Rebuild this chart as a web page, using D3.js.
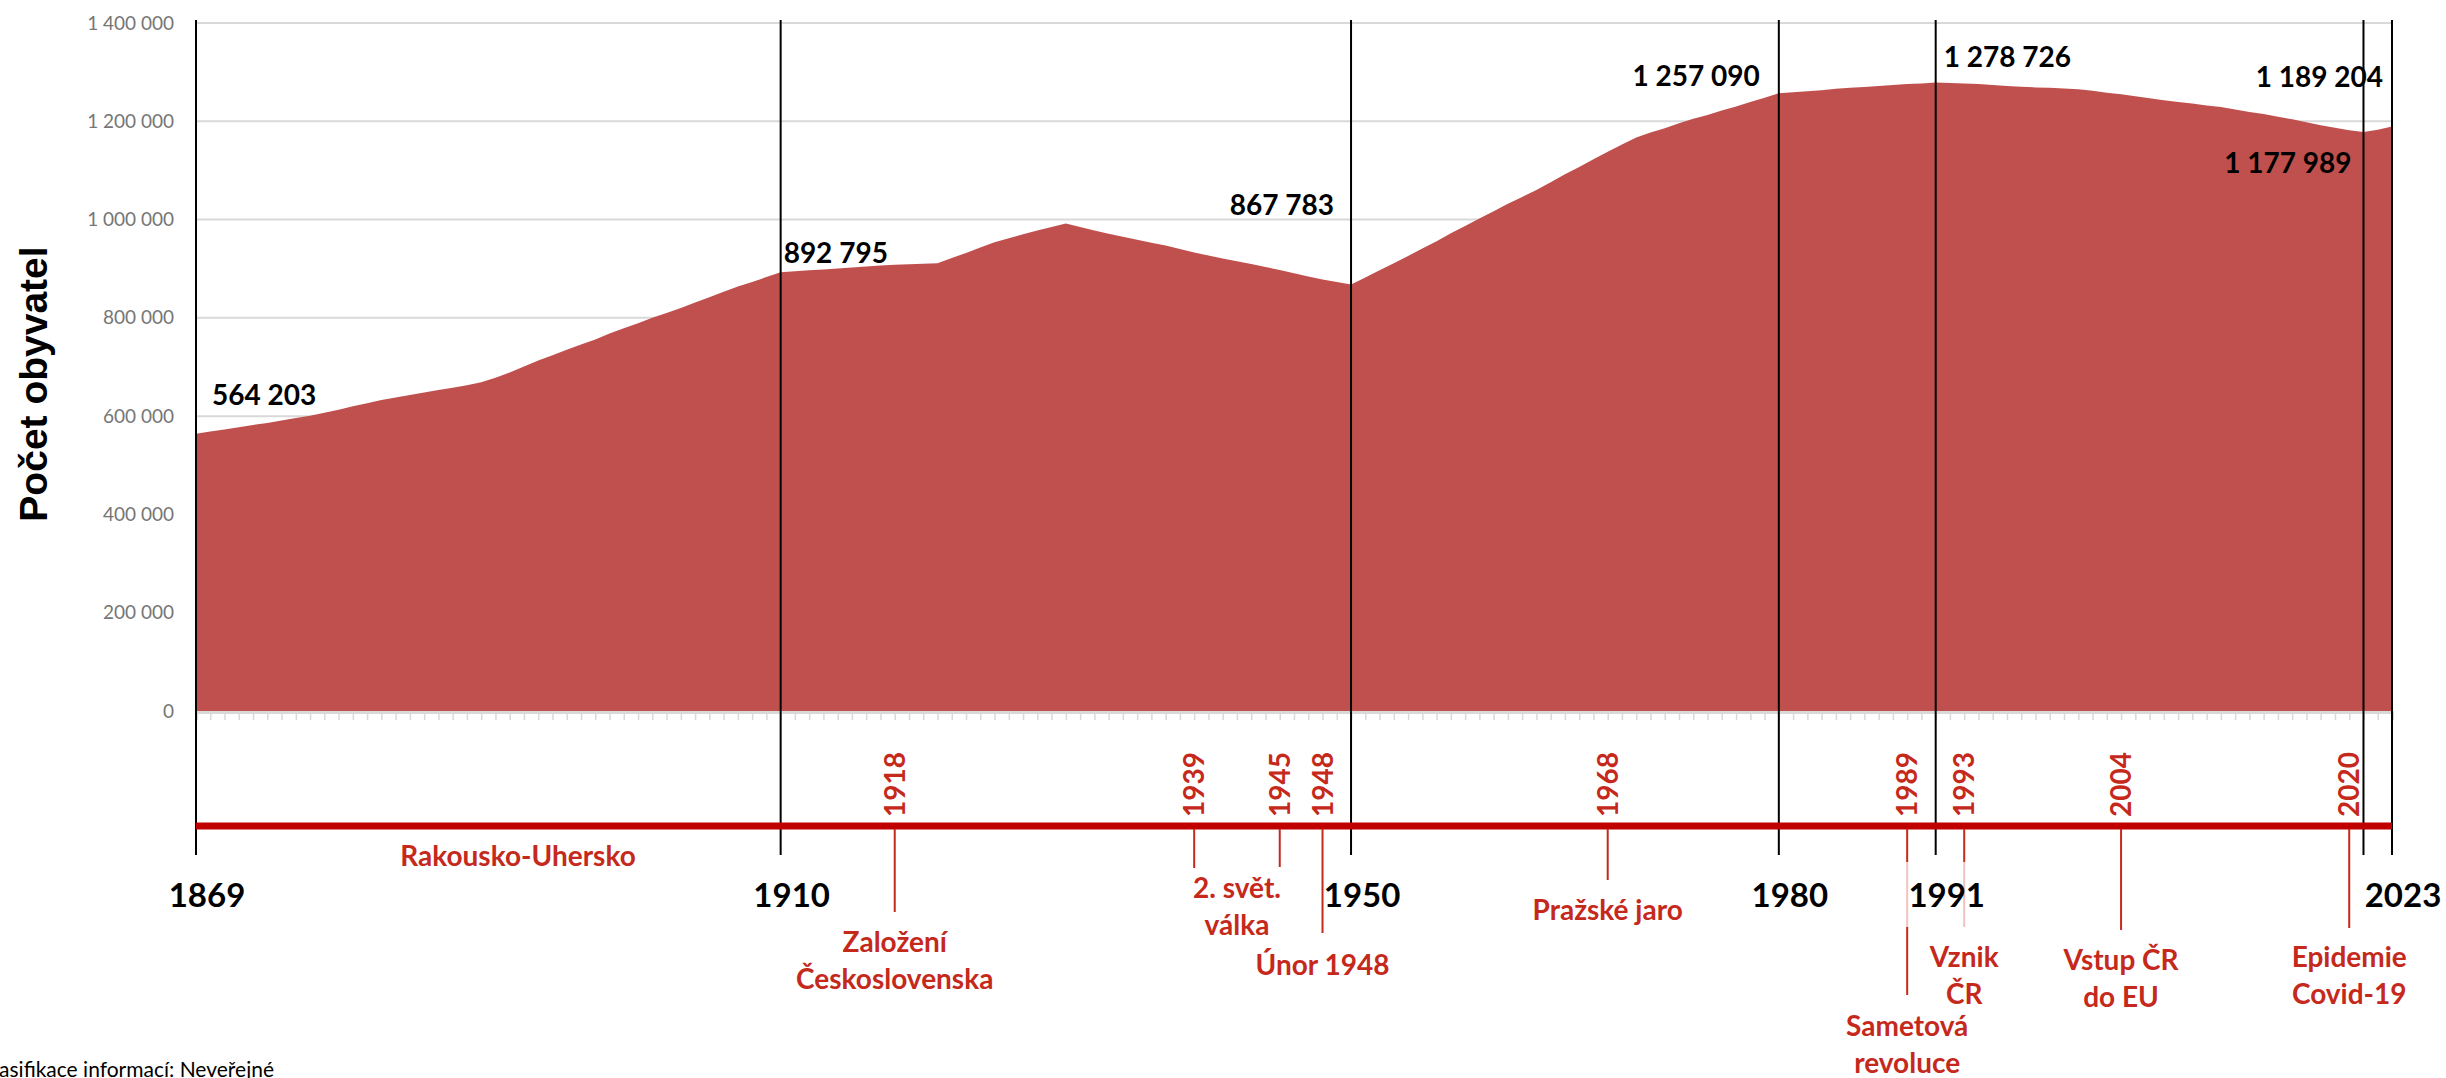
<!DOCTYPE html>
<html>
<head>
<meta charset="utf-8">
<script src="https://cdn.jsdelivr.net/npm/d3@7"></script>
<style>
  html, body { margin: 0; padding: 0; background: #fff; overflow: hidden; }
  svg { display: block; }
</style>
</head>
<body>
<script>
// ---------------- DATA ----------------
const firstYear = 1869;
const lastYear = 2023;
const population = [
  564203, 568500, 573000, 577500, 582000, 586000, 591000, 596000, 601000, 607000, // 1869-1878
  613000, 620000, 626000, 633000, 638000, 643000, 648000, 653000, 658000, 663000, // 1879-1888
  669000, 678000, 689000, 701000, 713000, 724000, 735000, 746000, 756000, 768000, // 1889-1898
  779000, 789000, 800000, 810000, 820000, 831000, 842000, 853000, 864000, 873000, // 1899-1908
  883000, 892795, 895000, 897000, 898500, 900500, 902500, 904500, 906500, 908000, // 1909-1918
  909000, 910000, 911000, 922000, 932000, 943000, 954000, 962000, 970000, 978000, // 1919-1928
  985000, 992000, 985000, 978000, 971000, 965000, 959000, 953000, 947000, 940000, // 1929-1938
  933000, 927000, 921000, 915000, 909500, 903500, 897500, 891000, 884000, 878000, // 1939-1948
  873000, 867783, 882000, 897000, 911000, 926000, 941000, 956000, 972000, 987000, // 1949-1958
  1002000, 1017000, 1032000, 1046000, 1060000, 1076000, 1092000, 1107000, 1123000, 1138000, // 1959-1968
  1153000, 1167000, 1177000, 1186000, 1196000, 1205000, 1213000, 1222000, 1230000, 1239000, // 1969-1978
  1248000, 1257090, 1259000, 1261000, 1263000, 1266000, 1268000, 1270000, 1272000, 1274000, // 1979-1988
  1276000, 1277000, 1278726, 1278000, 1277000, 1276000, 1274000, 1272000, 1270500, 1269000, // 1989-1998
  1268000, 1266500, 1265000, 1262000, 1258000, 1255000, 1251000, 1247000, 1243000, 1239000, // 1999-2008
  1236000, 1232000, 1229000, 1224000, 1219000, 1215000, 1209000, 1204000, 1198000, 1192000, // 2009-2018
  1187000, 1182000, 1177989, 1183000, 1189204                                              // 2019-2023
];
const years = d3.range(firstYear, lastYear + 1);

const yTickValues = [0, 200000, 400000, 600000, 800000, 1000000, 1200000, 1400000];
const censusLineYears = [1869, 1910, 1950, 1980, 1991, 2021, 2023];
const axisYearLabels = [1869, 1910, 1950, 1980, 1991, 2023];
const valueLabelYears = [1869, 1910, 1950, 1980, 1991, 2021, 2023];

const eventYears = [1918, 1939, 1945, 1948, 1968, 1989, 1993, 2004, 2020];
const eventLabelGroups = [
  { years: [1918], text: ["Založení", "Československa"] },
  { years: [1939, 1945], text: ["2. svět.", "válka"] },
  { years: [1948], text: ["Únor 1948"] },
  { years: [1968], text: ["Pražské jaro"] },
  { years: [1989], text: ["Sametová", "revoluce"] },
  { years: [1993], text: ["Vznik", "ČR"] },
  { years: [2004], text: ["Vstup ČR", "do EU"] },
  { years: [2020], text: ["Epidemie", "Covid-19"] }
];
const eraLabel = "Rakousko-Uhersko";
const yAxisTitle = "Počet obyvatel";
const footerText = "Klasifikace informací: Neveřejné";

// ---------------- LAYOUT ----------------
const W = 2446, H = 1078;
const plotLeft = 196, plotRight = 2392, plotTop = 23, plotBottom = 711;
const timelineY = 826;
const areaColor = "#C0504D";
const eventRed = "#C5291C";
const font = "Lato, 'Open Sans', sans-serif";

// label offsets (dx, dy relative to the data point) for value labels
const valueLabelLayout = [
  { dx: 16, dy: -29, anchor: "start" },
  { dx: 3, dy: -9, anchor: "start" },
  { dx: -17, dy: -70, anchor: "end" },
  { dx: -19, dy: -7, anchor: "end" },
  { dx: 8, dy: -16, anchor: "start" },
  { dx: -12, dy: 41, anchor: "end" },
  { dx: -9, dy: -40, anchor: "end" }
];
// line end y for each event marker
const eventLineEnd = { 1918: 912, 1939: 868, 1945: 867, 1948: 933, 1968: 880, 1989: 995, 1993: 927, 2004: 930, 2020: 928 };
// first baseline for each label group
const eventLabelBaseline = [952, 898, 975, 920, 1036, 967, 970, 967];

const fmt = d3.formatLocale({ decimal: ",", thousands: " ", grouping: [3], currency: ["", ""] }).format(",d");

const svg = d3.select("body").append("svg").attr("width", W).attr("height", H);

const x = d3.scaleLinear().domain([firstYear, lastYear]).range([plotLeft, plotRight]);
const y = d3.scaleLinear().domain([0, 1400000]).range([plotBottom, plotTop]);

// gridlines
svg.append("g").selectAll("line").data(yTickValues.filter(d => d > 0)).join("line")
  .attr("x1", plotLeft).attr("x2", plotRight)
  .attr("y1", d => y(d)).attr("y2", d => y(d))
  .attr("stroke", "#D9D9D9").attr("stroke-width", 2);

// y axis labels
const yAxis = svg.append("g").attr("transform", `translate(${plotLeft},0)`)
  .call(d3.axisLeft(y).tickValues(yTickValues).tickSize(0).tickPadding(22).tickFormat(fmt));
yAxis.select(".domain").remove();
yAxis.selectAll("text").attr("font-family", font).attr("font-size", 19).attr("fill", "#767676");

// area
const area = d3.area().x((d, i) => x(years[i])).y0(y(0)).y1(d => y(d));
svg.append("path").datum(population).attr("d", area).attr("fill", areaColor);

// x axis baseline with yearly ticks
const xAxis = svg.append("g").attr("transform", `translate(0,${plotBottom + 1})`)
  .call(d3.axisBottom(x).tickValues(years).tickSize(8).tickFormat(""));
xAxis.select(".domain").attr("stroke", "#D9D9D9").attr("stroke-width", 3);
xAxis.selectAll(".tick line").attr("stroke", "#D9D9D9").attr("stroke-width", 1.5);

// census vertical lines
svg.append("g").selectAll("line").data(censusLineYears).join("line")
  .attr("x1", d => x(d)).attr("x2", d => x(d))
  .attr("y1", 20).attr("y2", 855)
  .attr("stroke", "#000").attr("stroke-width", 2);

// red timeline
svg.append("line").attr("x1", x(firstYear)).attr("x2", x(lastYear))
  .attr("y1", timelineY).attr("y2", timelineY)
  .attr("stroke", "#C00000").attr("stroke-width", 7);

// event marker lines
svg.append("g").selectAll("line").data(eventYears).join("line")
  .attr("x1", d => x(d)).attr("x2", d => x(d))
  .attr("y1", timelineY + 3).attr("y2", d => eventLineEnd[d])
  .attr("stroke", eventRed).attr("stroke-width", 2);

// rotated event years
svg.append("g").selectAll("text").data(eventYears).join("text")
  .attr("transform", d => `translate(${x(d)},817) rotate(-90)`)
  .attr("dy", "0.36em")
  .attr("font-family", font).attr("font-weight", 700).attr("font-size", 28)
  .attr("fill", eventRed).text(d => d);

// bottom year labels (1991 has a semi-transparent white box)
const yl = svg.append("g").selectAll("g").data(axisYearLabels).join("g");
yl.filter(d => d === 1991).append("rect")
  .attr("x", d => x(d) + 11 - 45).attr("y", 862).attr("width", 90).attr("height", 65)
  .attr("fill", "#fff").attr("fill-opacity", 0.72);
yl.append("text")
  .attr("x", d => x(d) + 11).attr("y", 907)
  .attr("text-anchor", "middle")
  .attr("font-family", font).attr("font-weight", 700).attr("font-size", 33)
  .attr("fill", "#000").text(d => d);

// event labels
const eg = svg.append("g").selectAll("text").data(eventLabelGroups).join("text")
  .attr("text-anchor", "middle")
  .attr("font-family", font).attr("font-weight", 700).attr("font-size", 28)
  .attr("fill", eventRed);
eg.each(function (d, i) {
  const cx = d3.mean(d.years, v => x(v));
  d3.select(this).selectAll("tspan").data(d.text).join("tspan")
    .attr("x", cx).attr("y", (t, j) => eventLabelBaseline[i] + j * 37)
    .text(t => t);
});

// era label
svg.append("text").attr("x", 518).attr("y", 866).attr("text-anchor", "middle")
  .attr("font-family", font).attr("font-weight", 700).attr("font-size", 28)
  .attr("fill", eventRed).text(eraLabel);

// value labels
svg.append("g").selectAll("text").data(valueLabelYears).join("text")
  .attr("x", (d, i) => x(d) + valueLabelLayout[i].dx)
  .attr("y", (d, i) => y(population[d - firstYear]) + valueLabelLayout[i].dy)
  .attr("text-anchor", (d, i) => valueLabelLayout[i].anchor)
  .attr("font-family", font).attr("font-weight", 700).attr("font-size", 28)
  .attr("fill", "#000").text(d => fmt(population[d - firstYear]));

// y axis title
svg.append("text").attr("transform", "translate(47,384) rotate(-90)")
  .attr("text-anchor", "middle")
  .attr("font-family", "'Liberation Sans', Arial, sans-serif").attr("font-weight", 700).attr("font-size", 39)
  .attr("fill", "#000").text(yAxisTitle);

// footer (cut at the left edge, as in the original)
svg.append("text").attr("x", 274).attr("y", 1077).attr("text-anchor", "end")
  .attr("font-family", font).attr("font-size", 21).attr("fill", "#000").text(footerText);
</script>
</body>
</html>
